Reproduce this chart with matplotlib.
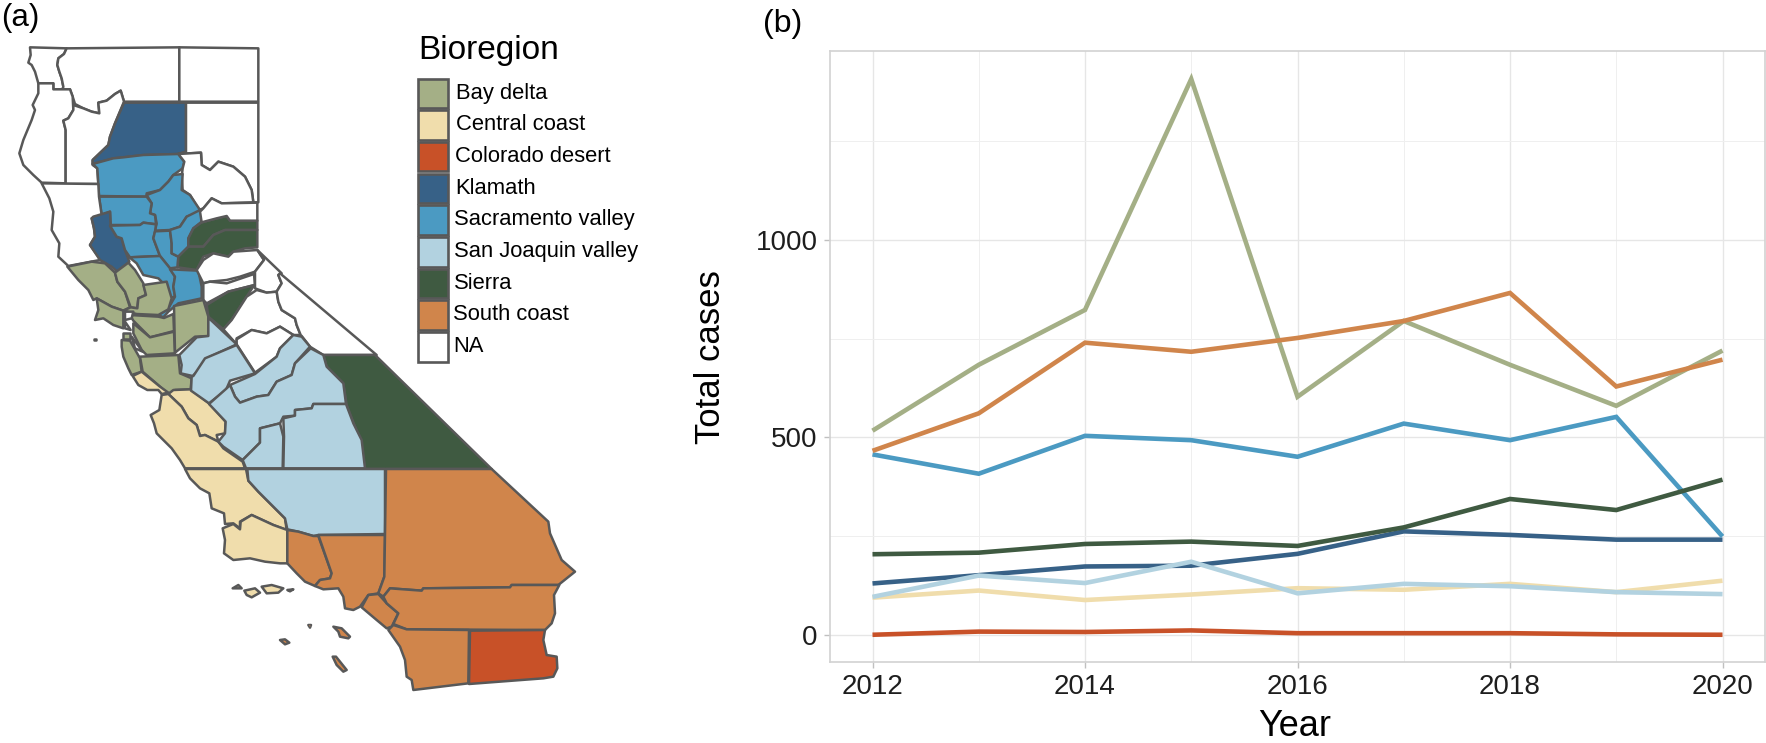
"""
plot.py - bioregion map (a) and yearly case totals by bioregion (b)
"""

import matplotlib
matplotlib.use("Agg")
import matplotlib.pyplot as plt
from matplotlib.patches import Polygon, Rectangle

plt.rcParams["font.family"] = ["Liberation Sans", "DejaVu Sans"]

# ── Data: bioregions and yearly totals ───────────────────────────────────────
YEARS = [2012, 2013, 2014, 2015, 2016, 2017, 2018, 2019, 2020]

REGIONS = ["Bay delta", "Central coast", "Colorado desert", "Klamath",
           "Sacramento valley", "San Joaquin valley", "Sierra", "South coast"]
COLORS = ["#A4AF86", "#F0DDAC", "#C85128", "#376187",
          "#4B9AC2", "#B2D2E0", "#3F5A41", "#D0854B"]

BAY_DELTA  = [517, 684, 823, 1408, 603, 795, 684, 580, 720]
CENTRAL    = [94, 112, 88, 102, 118, 114, 129, 108, 137]
COLORADO   = [0, 8, 7, 11, 4, 4, 4, 1, 0]
KLAMATH    = [130, 151, 173, 175, 205, 262, 253, 241, 241]
SACRAMENTO = [457, 408, 504, 493, 451, 535, 493, 552, 249]
SAN_JOAQ   = [96, 150, 131, 185, 105, 129, 123, 108, 103]
SIERRA     = [204, 208, 230, 236, 225, 272, 344, 316, 393]
SOUTH      = [466, 561, 740, 717, 752, 795, 866, 629, 697]
SERIES = [BAY_DELTA, CENTRAL, COLORADO, KLAMATH, SACRAMENTO, SAN_JOAQ, SIERRA, SOUTH]

# ── Data: county outlines, traced on three map sheets ────────────────────────
# sheet units are a third of a map unit
NORTH = (0, 30)
MID   = (60, 250)
SOUTH_SHEET = (200, 450)

DEL_NORTE = [(90,52),(200,55),(192,72),(175,85),(172,105),(178,125),(185,145),(190,170),(188,178),
             (160,178),(160,160),(115,160),(105,125),(95,105),(85,98),(92,75)]
SISKIYOU = [(200,55),(538,52),(538,215),(372,215),(362,182),(345,192),(320,212),(295,218),(298,250),
            (275,245),(250,235),(225,222),(218,200),(210,178),(188,178),(190,170),(185,145),(178,125),
            (172,105),(175,85),(192,72)]
MODOC = [(538,52),(775,55),(775,215),(538,215)]
HUMBOLDT = [(115,160),(160,160),(160,178),(210,178),(218,200),(220,240),(205,265),(190,272),(197,300),
            (197,460),(125,458),(100,435),(70,405),(58,370),(70,330),(95,270),(105,240),(98,225),(115,190)]
TRINITY = [(220,225),(250,235),(275,245),(298,250),(295,218),(320,212),(345,192),(362,182),(372,215),
           (345,280),(330,320),(325,345),(278,390),(278,405),(292,415),(295,462),(197,462),(197,300),
           (190,272),(205,265),(220,240)]
SHASTA = [(372,218),(558,218),(558,365),(535,372),(430,375),(370,382),(340,385),(278,402),(278,390),
          (325,345),(330,320),(345,280)]
LASSEN = [(558,218),(775,218),(775,517),(760,517),(755,480),(735,440),(700,410),(655,395),(630,420),
          (605,405),(603,368),(535,372),(558,365)]
TEHAMA = [(278,402),(340,385),(370,382),(430,375),(535,372),(553,395),(548,415),(520,435),(505,455),
          (480,480),(440,490),(440,500),(297,498),(295,462),(292,415)]
PLUMAS = [(535,372),(603,368),(605,405),(630,420),(655,395),(700,410),(735,440),(755,480),(760,517),
          (665,520),(635,505),(610,535),(597,540),(570,495),(548,480),(545,440),(548,415),(553,395)]
BUTTE = [(548,432),(545,480),(570,495),(600,540),(590,550),(560,560),(540,590),(510,600),(465,602),
         (470,580),(465,555),(450,550),(455,520),(440,495),(480,480),(505,455),(520,435)]
GLENN = [(297,500),(440,500),(455,520),(450,550),(465,555),(468,583),(430,578),(420,585),(332,585),
         (330,545),(305,555)]
MENDOCINO = [(125,460),(295,462),(297,500),(305,555),(275,565),(282,595),(285,620),(270,645),(295,680),
             (300,690),(205,708),(175,680),(178,640),(155,600),(160,545),(148,505)]
LAKE = [(280,560),(330,545),(332,590),(350,620),(365,625),(375,660),(388,695),(355,728),(335,710),
        (300,690),(270,645),(285,620),(282,595),(275,565)]
COLUSA = [(330,587),(420,585),(430,578),(468,583),(465,605),(460,625),(480,678),(390,682),(375,660),
          (365,625),(350,620)]
SUTTER = [(465,604),(510,602),(515,640),(515,670),(535,680),(533,712),(510,715),(480,678),(460,625)]
YUBA = [(510,600),(540,590),(560,560),(600,540),(608,545),(605,575),(580,595),(565,625),(565,650),
        (535,680),(515,670),(515,640)]
SIERRA_CO = [(605,577),(650,565),(680,558),(690,572),(772,572),(772,600),(675,600),(640,615),(610,650),
             (565,650),(565,625),(580,595)]
NEVADA = [(565,650),(610,650),(640,615),(675,600),(772,600),(772,652),(735,655),(700,665),(685,680),
          (640,670),(610,680),(590,720),(533,712),(535,680)]
WHITE_NE = [(600,545),(610,535),(635,505),(665,520),(772,518),(772,572),(690,572),(680,558),(650,565),(605,577)]
YOLO = [(388,682),(480,678),(510,715),(525,740),(520,770),(525,800),(505,805),(500,770),(475,745),
        (430,735),(410,700)]
SACRAMENTO_CO = [(510,718),(595,722),(605,770),(605,805),(535,820),(505,845),(490,862),(475,855),
                 (505,835),(525,800),(520,770),(525,740)]

SONOMA = [(22,50),(95,35),(135,40),(165,68),(172,95),(195,125),(210,172),(190,182),(155,170),(110,145),
          (100,150),(85,120),(55,90)]
NAPA = [(165,68),(205,38),(225,60),(250,100),(258,135),(235,145),(232,175),(212,172),(195,125),(172,95)]
SOLANO = [(250,105),(320,95),(335,145),(325,178),(295,195),(230,192),(190,182),(212,172),(232,175),
          (235,145),(258,135)]
MARIN = [(110,145),(155,170),(190,182),(190,235),(160,225),(130,205),(105,210),(115,180)]
CONTRA_COSTA = [(210,195),(295,200),(312,204),(340,192),(342,243),(270,262),(220,212)]
ALAMEDA = [(220,220),(270,262),(342,245),(345,310),(260,315),(245,300),(220,250)]
SAN_JOAQUIN = [(342,168),(430,150),(445,200),(445,258),(405,260),(345,308)]
SAN_FRAN = [(190,250),(210,250),(210,268),(188,268)]
SAN_MATEO = [(185,270),(210,272),(240,325),(245,365),(215,375),(205,355),(190,320),(185,290)]
SANTA_CLARA = [(240,320),(355,315),(360,370),(395,385),(392,418),(345,420),(325,432),(300,410),(248,365)]
BAY_W1 = [(195,185),(220,185),(215,205),(195,210)]
BAY_W2 = [(195,215),(212,240),(195,235)]
BAY_W3 = [(215,260),(248,305),(225,295)]
SANTA_CRUZ = [(218,378),(245,365),(300,410),(325,428),(305,432),(295,420),(262,420),(235,405)]
SAN_BENITO = [(340,420),(392,418),(450,462),(497,515),(495,550),(470,555),(475,575),(435,555),(420,558),
              (410,525),(385,505),(365,470),(325,432)]
MONTEREY = [(305,435),(325,432),(365,470),(385,505),(410,525),(420,558),(435,555),(475,575),(490,595),
            (548,635),(555,655),(375,655),(360,630),(335,595),(290,550),(282,520),(272,495),(298,480)]
STANISLAUS = [(445,203),(530,283),(440,325),(432,345),(398,378),(362,370),(365,345),(358,315),(410,262),(445,258)]
MERCED = [(435,325),(530,285),(585,370),(510,392),(498,420),(447,460),(393,422),(395,380),(400,378)]
MADERA = [(510,405),(585,372),(650,320),(660,295),(700,255),(725,260),(750,290),(705,340),(695,375),
          (650,395),(625,435),(590,440),(540,458),(525,440)]
FRESNO = [(447,462),(500,415),(510,405),(525,440),(540,458),(590,440),(625,435),(650,395),(695,375),
          (705,340),(752,295),(790,315),(800,350),(850,400),(858,462),(760,462),(755,475),(705,480),
          (705,497),(670,500),(660,520),(600,535),(600,578),(548,630),(490,590),(475,575),(495,550),(497,515)]
KINGS = [(600,535),(660,520),(670,560),(668,655),(558,655),(548,630),(600,578)]
TULARE = [(670,505),(705,497),(705,480),(755,475),(760,462),(858,462),(880,520),(905,570),(915,655),
          (670,655),(672,560)]
INYO = [(790,315),(945,315),(1295,657),(915,657),(905,590),(885,530),(860,465),(850,400),(800,350)]
TUOLUMNE = [(590,120),(620,128),(650,125),(655,155),(665,180),(705,205),(710,225),(722,255),(700,255),
            (660,230),(620,250),(575,240),(530,265),(530,283),(490,238),(515,210),(560,140)]
MARIPOSA = [(530,283),(530,268),(575,240),(620,250),(660,230),(700,255),(660,295),(650,320),(585,368)]
MONO = [(660,70),(950,315),(790,315),(750,290),(725,258),(722,255),(710,225),(705,205),(665,180),
        (655,155),(650,125),(665,100),(655,75)]
ALPINE = [(592,0),(665,70),(655,75),(665,100),(650,125),(620,128),(585,115),(585,65),(612,30)]
EL_DORADO = [(410,60),(430,30),(460,10),(505,20),(520,5),(592,0),(612,30),(585,65),(540,80),(500,90),
             (450,95),(430,100)]
AMADOR = [(430,100),(450,95),(500,100),(582,72),(585,105),(505,125),(440,160),(430,150)]
CALAVERAS = [(440,165),(505,125),(583,105),(560,140),(515,210),(490,238),(445,200)]
FARALLON = [(102,266),(108,266),(108,271),(102,271)]

SLO = [(-45,57),(138,57),(145,92),(175,125),(200,150),(225,175),(255,205),(260,240),(220,225),(155,195),
       (120,215),(120,235),(100,220),(75,222),(72,190),(35,175),(28,130),(0,115),(-30,85)]
SANTA_BARBARA = [(68,235),(100,222),(120,238),(122,215),(155,195),(220,225),(262,240),(262,340),(240,340),
                 (195,335),(150,325),(100,330),(72,310),(75,270)]
KERN = [(142,57),(555,57),(555,252),(355,255),(340,258),(295,245),(262,238),(255,205),(225,175),(200,150),
        (175,125),(145,92)]
VENTURA = [(262,240),(295,245),(340,258),(355,258),(395,370),(390,385),(360,390),(345,408),(315,395),
           (290,370),(262,340)]
LOS_ANGELES = [(355,255),(555,255),(553,380),(535,430),(505,435),(480,470),(460,480),(435,475),(430,440),
               (415,415),(370,418),(345,408),(360,390),(390,385),(395,370)]
SAN_BERN = [(558,57),(875,57),(1045,215),(1050,250),(1085,330),(1125,365),(1075,405),(935,405),(930,412),
            (670,415),(665,422),(570,415),(550,440),(535,430),(553,380)]
ORANGE = [(505,435),(535,432),(560,460),(595,490),(575,530),(560,535),(530,510),(485,472)]
RIVERSIDE = [(550,440),(570,415),(665,422),(670,415),(930,412),(935,405),(1078,405),(1062,435),(1065,490),
             (1055,520),(1035,540),(620,538),(580,522),(595,490),(560,460)]
SAN_DIEGO = [(565,540),(580,525),(620,538),(807,540),(805,700),(640,720),(635,690),(620,680),(615,630),(600,590)]
IMPERIAL = [(810,542),(1035,540),(1030,570),(1040,615),(1070,620),(1072,655),(1060,680),(1030,685),(807,702)]
ISLE_C1 = [(133,422),(165,415),(180,428),(155,442),(140,435)]
ISLE_C2 = [(185,410),(215,405),(250,415),(235,428),(200,430)]
ISLE_C3 = [(98,415),(115,405),(125,415)]
ISLE_C4 = [(262,420),(280,418),(270,424)]
ISLE_S1 = [(400,530),(425,535),(450,560),(445,565),(420,560),(415,545)]
ISLE_S2 = [(240,570),(255,568),(268,578),(255,583)]
ISLE_S3 = [(398,620),(408,620),(440,660),(430,665),(410,645)]
ISLE_S4 = [(325,525),(333,525),(330,533)]

# (sheet, outline, region index or None for NA)
COUNTIES = [
    (NORTH, DEL_NORTE, None), (NORTH, SISKIYOU, None), (NORTH, MODOC, None), (NORTH, HUMBOLDT, None),
    (NORTH, TRINITY, None), (NORTH, SHASTA, 3), (NORTH, LASSEN, None), (NORTH, TEHAMA, 4),
    (NORTH, PLUMAS, None), (NORTH, BUTTE, 4), (NORTH, GLENN, 4), (NORTH, MENDOCINO, None),
    (NORTH, LAKE, 3), (NORTH, COLUSA, 4), (NORTH, SUTTER, 4), (NORTH, YUBA, 4),
    (NORTH, SIERRA_CO, 6), (NORTH, NEVADA, 6), (NORTH, WHITE_NE, None), (NORTH, YOLO, 4),
    (NORTH, SACRAMENTO_CO, 4),
    (MID, EL_DORADO, None), (MID, AMADOR, None), (MID, ALPINE, None), (MID, CALAVERAS, 6),
    (MID, TUOLUMNE, None), (MID, MARIPOSA, None), (MID, MONO, None), (MID, INYO, 6),
    (MID, SONOMA, 0), (MID, NAPA, 0), (MID, SOLANO, 0), (MID, MARIN, 0), (MID, CONTRA_COSTA, 0),
    (MID, ALAMEDA, 0), (MID, SAN_JOAQUIN, 0), (MID, SAN_FRAN, 0), (MID, SAN_MATEO, 0), (MID, SANTA_CLARA, 0),
    (MID, BAY_W1, None), (MID, BAY_W2, None), (MID, BAY_W3, None), (MID, FARALLON, 0),
    (MID, SANTA_CRUZ, 1), (MID, SAN_BENITO, 1), (MID, MONTEREY, 1),
    (MID, STANISLAUS, 5), (MID, MERCED, 5), (MID, MADERA, 5), (MID, FRESNO, 5), (MID, KINGS, 5), (MID, TULARE, 5),
    (SOUTH_SHEET, SLO, 1), (SOUTH_SHEET, SANTA_BARBARA, 1), (SOUTH_SHEET, KERN, 5),
    (SOUTH_SHEET, VENTURA, 7), (SOUTH_SHEET, LOS_ANGELES, 7), (SOUTH_SHEET, SAN_BERN, 7),
    (SOUTH_SHEET, ORANGE, 7), (SOUTH_SHEET, RIVERSIDE, 7), (SOUTH_SHEET, SAN_DIEGO, 7), (SOUTH_SHEET, IMPERIAL, 2),
    (SOUTH_SHEET, ISLE_C1, 1), (SOUTH_SHEET, ISLE_C2, 1), (SOUTH_SHEET, ISLE_C3, 1), (SOUTH_SHEET, ISLE_C4, 1),
    (SOUTH_SHEET, ISLE_S1, 7), (SOUTH_SHEET, ISLE_S2, 7), (SOUTH_SHEET, ISLE_S3, 7), (SOUTH_SHEET, ISLE_S4, 7),
]

# ── Figure ───────────────────────────────────────────────────────────────────
W, H = 1766, 743
EDGE = "#585858"

fig = plt.figure(figsize=(W / 100, H / 100), dpi=100, facecolor="white")

# panel (a) works directly in figure pixels, y down
ax_map = fig.add_axes([0, 0, 1, 1])
ax_map.set_xlim(0, W)
ax_map.set_ylim(H, 0)
ax_map.axis("off")

for sheet, outline, region in COUNTIES:
    pts = [(sheet[0] + x / 3, sheet[1] + y / 3) for x, y in outline]
    face = "white" if region is None else COLORS[region]
    ax_map.add_patch(Polygon(pts, closed=True, facecolor=face, edgecolor=EDGE,
                             linewidth=1.8, joinstyle="round"))

# legend, drawn by hand like the ggplot key column
ax_map.text(418.5, 50.5, "Bioregion", fontsize=24, va="center", ha="left", color="black")
key_labels = REGIONS + ["NA"]
key_colors = COLORS + ["white"]
for i, (lab, col) in enumerate(zip(key_labels, key_colors)):
    y = 78.5 + i * 31.7
    ax_map.add_patch(Rectangle((418, y), 29.5, 29.5, facecolor=col, edgecolor=EDGE, linewidth=1.9))
    ax_map.text(456 - i * 0.4, y + 14.5, lab, fontsize=15.8, va="center", ha="left", color="black")

ax_map.text(1, 18, "(a)", fontsize=22.5, va="center", ha="left", color="black")
ax_map.text(763, 24, "(b)", fontsize=23, va="center", ha="left", color="black")

# panel (b)
left, right, top, bottom = 830, 1765, 51, 662
ax = fig.add_axes([left / W, 1 - bottom / H, (right - left) / W, (bottom - top) / H])
ax.patch.set_alpha(0)

for vals, col in zip(SERIES, COLORS):
    ax.plot(YEARS, vals, color=col, linewidth=3.3, solid_capstyle="butt",
            solid_joinstyle="miter", zorder=3)

ax.set_xlim(2012 - 0.4, 2020 + 0.4)
ax.set_ylim(-69, 1479)

ax.set_xticks(range(2012, 2021, 2))
ax.set_xticks(range(2013, 2020, 2), minor=True)
ax.set_yticks([0, 500, 1000])
ax.set_yticks([250, 750, 1250], minor=True)

ax.grid(which="major", color="#E6E6E6", linewidth=1.0)
ax.grid(which="minor", color="#EFEFEF", linewidth=0.7)
ax.set_axisbelow(True)
for spine in ax.spines.values():
    spine.set_color("#D2D2D2")
    spine.set_linewidth(1.2)

ax.tick_params(axis="both", which="major", labelsize=20, length=4, width=1.0,
               color="#C0C0C0", labelcolor="#1E1E1E", pad=5)
ax.tick_params(axis="both", which="minor", length=0)

ax_map.text(711, 357, "Total cases", fontsize=25, rotation=90, va="center", ha="center", color="black")
ax_map.text(1295, 727, "Year", fontsize=26, va="center", ha="center", color="black")

fig.savefig("out.png", dpi=100)
